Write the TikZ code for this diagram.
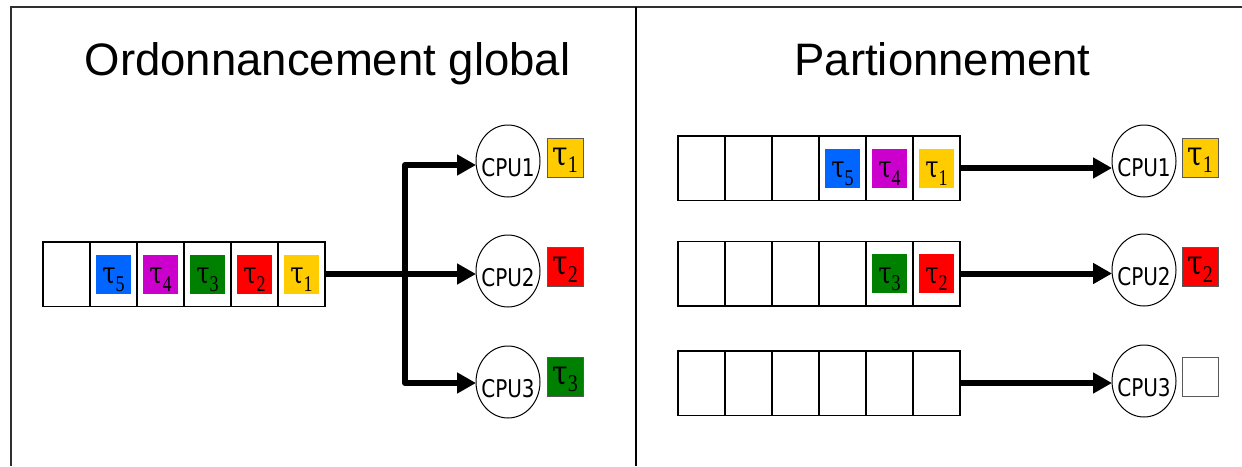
\documentclass[tikz,border=0pt]{standalone}
\usepackage{fontspec}
\setmainfont{Liberation Serif}
\newfontfamily\titlefont{Liberation Sans}
\newfontfamily\cpufont{DejaVu Sans}
\newfontfamily\taufont{Liberation Serif}
\newfontfamily\greekfont{DejaVu Serif}
\usetikzlibrary{arrows.meta,shapes.geometric}
\definecolor{tblue}{HTML}{0066FF}
\definecolor{tmag}{HTML}{CC00CC}
\definecolor{tgreen}{HTML}{008000}
\definecolor{tred}{HTML}{FF0000}
\definecolor{tyel}{HTML}{FFCC00}
\definecolor{frame}{HTML}{303030}
\newcommand\tq[1]{{\taufont\scalebox{1}[1.25]{{\greekfont\fontsize{24}{24}\selectfont τ}\raisebox{-6pt}{\fontsize{18}{18}\selectfont #1}}}}
\newcommand\tc[1]{{\taufont\scalebox{1}[1.2]{{\greekfont\fontsize{28}{28}\selectfont τ}\raisebox{-6.5pt}{\fontsize{20}{20}\selectfont #1}}}}
\newcommand\cpu[1]{\makebox[0pt]{\cpufont\scalebox{1}[1.22]{\fontsize{20}{20}\selectfont #1}}}
\tikzset{
  qcell/.style={draw, line width=1.5pt, minimum width=47pt, minimum height=64.5pt, inner sep=0pt, outer sep=0pt},
  qsq/.style={minimum width=35pt, minimum height=39pt, inner sep=0pt, text height=19pt, text depth=0pt},
  cbox/.style={draw=black!65, line width=0.8pt, minimum width=36pt, minimum height=39pt, inner sep=0pt, text height=15pt, text depth=0pt},
  cpunode/.style={draw, ellipse, line width=1pt, minimum width=64pt, minimum height=72pt, inner sep=0pt, text height=30pt, text depth=0pt, outer sep=0pt},
  arr/.style={line width=6pt, line join=round, -{Triangle[length=19pt,width=20pt]}},
  ttl/.style={anchor=base, inner sep=0pt, font=\titlefont\fontsize{45.5}{45.5}\selectfont}
}
\begin{document}
\begin{tikzpicture}[x=1pt,y=-1pt]
\useasboundingbox (0,0) rectangle (1242,466);
% frame
\draw[frame, line width=2pt] (11,466) -- (11,7) -- (1242,7);
\draw[black, line width=1.6pt] (636,7) -- (636,466);
% titles
\node[ttl] (t1) at (327.5,75) {Ordonnancement global};
\node[ttl] (t2) at (942.5,75) {Partionnement};
% left queue
\foreach \i in {1,...,6} {
  \node[qcell] (lc\i) at ({43+47*(\i-0.5)},274) {};
}
\node[qsq, fill=tblue] (ls5) at (lc2) {\tq{5}};
\node[qsq, fill=tmag] (ls4) at (lc3) {\tq{4}};
\node[qsq, fill=tgreen] (ls3) at (lc4) {\tq{3}};
\node[qsq, fill=tred] (ls2) at (lc5) {\tq{2}};
\node[qsq, fill=tyel] (ls1) at (lc6) {\tq{1}};
% left CPUs
\node[cpunode] (lcpu1) at (508,161) {\cpu{CPU1}};
\node[cpunode] (lcpu2) at (508,271) {\cpu{CPU2}};
\node[cpunode] (lcpu3) at (508,382) {\cpu{CPU3}};
\node[cbox, fill=tyel] (lt1) at (565,157.5) {\tc{1}};
\node[cbox, fill=tred] (lt2) at (565,267) {\tc{2}};
\node[cbox, fill=tgreen] (lt3) at (565,376.5) {\tc{3}};
% left arrows
\coordinate (jm) at (405,274);
\coordinate (jt) at (405,165);
\coordinate (jb) at (405,383);
\draw[arr] (lc6.east) -- (lc6.east -| lcpu2.west);
\draw[arr] (jm) -- (jt) -- (jt -| lcpu1.west);
\draw[arr] (jm) -- (jb) -- (jb -| lcpu3.west);
% right queues
\foreach \q/\y in {1/168,2/273.5,3/383} {
  \foreach \i in {1,...,6} {
    \node[qcell] (r\q c\i) at ({678+47*(\i-0.5)},\y) {};
  }
}
\node[qsq, fill=tblue] (rs5) at (r1c4) {\tq{5}};
\node[qsq, fill=tmag] (rs4) at (r1c5) {\tq{4}};
\node[qsq, fill=tyel] (rs1) at (r1c6) {\tq{1}};
\node[qsq, fill=tgreen] (rs3) at (r2c5) {\tq{3}};
\node[qsq, fill=tred] (rs2) at (r2c6) {\tq{2}};
% right CPUs
\node[cpunode] (rcpu1) at (1144,161) {\cpu{CPU1}};
\node[cpunode] (rcpu2) at (1144,270) {\cpu{CPU2}};
\node[cpunode] (rcpu3) at (1144,381) {\cpu{CPU3}};
\node[cbox, fill=tyel] (rt1) at (1200,157.5) {\tc{1}};
\node[cbox, fill=tred] (rt2) at (1200,267) {\tc{2}};
\node[cbox, fill=white] (rt3) at (1200,376.5) {};
% right arrows
\draw[arr] (r1c6.east) -- (r1c6.east -| rcpu1.west);
\draw[arr] (r2c6.east) -- (r2c6.east -| rcpu2.west);
\draw[arr] (r3c6.east) -- (r3c6.east -| rcpu3.west);
\end{tikzpicture}
\end{document}
